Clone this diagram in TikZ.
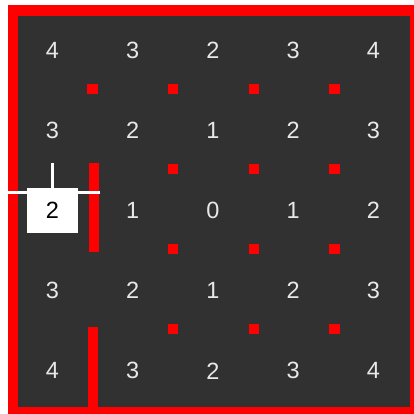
\documentclass[tikz,border=0pt]{standalone}
\usepackage{fontspec}
\setmainfont{Liberation Sans}
\usetikzlibrary{positioning}
\definecolor{boardRed}{HTML}{FF0000}
\definecolor{boardDark}{HTML}{313131}
\definecolor{digitGray}{HTML}{E8E8E8}

\begin{document}
\begin{tikzpicture}[
    x=1pt, y=-1pt,
    node distance=80.2pt and 80.2pt, on grid,
    dist/.style={text=digitGray, font=\fontsize{23.5}{23.5}\selectfont,
                 inner sep=0pt},
    peg/.style={fill=boardRed, minimum size=10.5pt, inner sep=0pt},
    wall/.style={fill=boardRed, minimum width=10pt, inner sep=0pt},
    probe/.style={fill=white, text=black, minimum width=51pt,
                  minimum height=45pt, inner sep=0pt,
                  font=\fontsize{23.5}{23.5}\selectfont},
    cut/.style={draw=white, line width=3pt},
]

% ── Board ──
\useasboundingbox[fill=white] (0,0) rectangle (414,414);
\fill[boardRed] (8,5) rectangle (414,414);
\fill[boardDark] (18,16) rectangle (410,407);

% ── Walls ──
\node[wall, minimum height=89pt] (wallUp) at (93.5,207.5) {};
\node[wall, minimum height=80pt] (wallLow) at (93,367) {};

% ── Pegs ──
\node[peg] (p11) at (92.5,89) {};
\node[peg] (p12) at (173,89) {};
\node[peg] (p13) at (254,89) {};
\node[peg] (p14) at (334.5,89) {};
\node[peg] (p22) at (173,169) {};
\node[peg] (p23) at (254,169) {};
\node[peg] (p24) at (334.5,169) {};
\node[peg] (p32) at (173,249) {};
\node[peg] (p33) at (254,249) {};
\node[peg] (p34) at (334.5,249) {};
\node[peg] (p42) at (173,329) {};
\node[peg] (p43) at (254,329) {};
\node[peg] (p44) at (334.5,329) {};

% ── Distances ──
\node[dist] (d11) at (52.5,50) {4};
\node[dist, right=of d11] (d12) {3};
\node[dist, right=of d12] (d13) {2};
\node[dist, right=of d13] (d14) {3};
\node[dist, right=of d14] (d15) {4};

\node[dist, below=of d11] (d21) {3};
\node[dist, right=of d21] (d22) {2};
\node[dist, right=of d22] (d23) {1};
\node[dist, right=of d23] (d24) {2};
\node[dist, right=of d24] (d25) {3};

\node[probe, below=of d21] (probe) {2};
\node[dist, right=of probe] (d32) {1};
\node[dist, right=of d32] (d33) {0};
\node[dist, right=of d33] (d34) {1};
\node[dist, right=of d34] (d35) {2};

\node[dist, below=of probe] (d41) {3};
\node[dist, right=of d41] (d42) {2};
\node[dist, right=of d42] (d43) {1};
\node[dist, right=of d43] (d44) {2};
\node[dist, right=of d44] (d45) {3};

\node[dist, below=of d41] (d51) {4};
\node[dist, right=of d51] (d52) {3};
\node[dist, right=of d52] (d53) {2};
\node[dist, right=of d53] (d54) {3};
\node[dist, right=of d54] (d55) {4};

% ── Probe marker ──
\coordinate (cutL) at (0,192.5);
\coordinate (cutR) at (100,192.5);
\coordinate (tickTop) at (52.5,163);
\coordinate (tickBot) at (52.5,192.5);
\draw[cut] (cutL) -- (cutR);
\draw[cut] (tickTop) -- (tickBot);
\end{tikzpicture}
\end{document}
